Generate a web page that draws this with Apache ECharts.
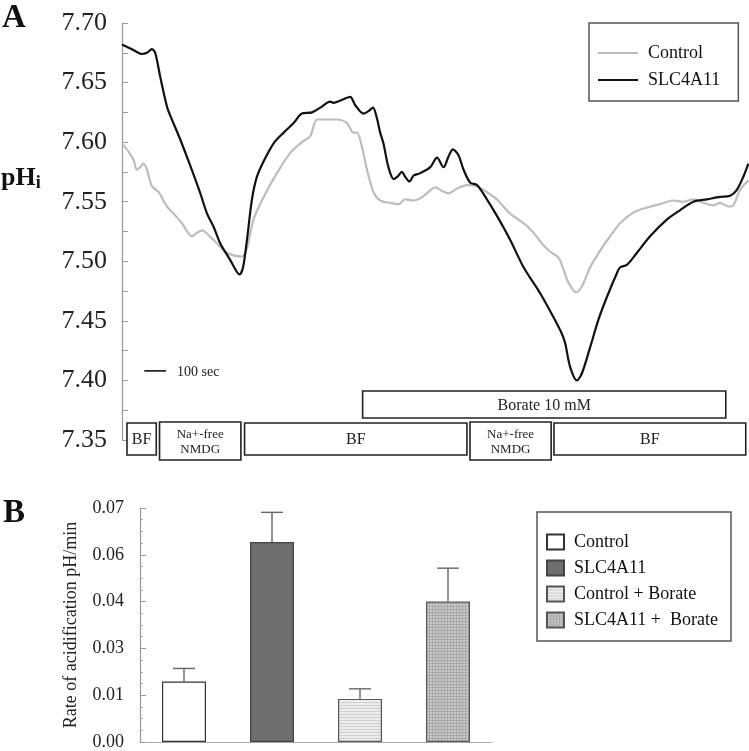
<!DOCTYPE html>
<html><head><meta charset="utf-8">
<script src="https://cdn.jsdelivr.net/npm/echarts@6/dist/echarts.min.js"></script>
<style>html,body{margin:0;padding:0;background:#fff}#c{width:749px;height:751px}</style>
</head><body><div id="c"></div>
<script>
// ---------- Panel A: intracellular pH traces ----------
const controlTime = [0,30,53,69,84,100,115,138,169,207,238,276,323,346,369,399,438,476,514,553,576,606,653,714,776,837,868,899,945,991,1037,1067,1083,1106,1129,1159,1190,1236,1275,1305,1344,1375,1405,1444,1475,1505,1544,1590,1636,1682,1728,1789,1851,1897,1935,1974,2012,2035,2058,2093,2120,2158,2204,2250,2296,2357,2419,2480,2542,2588,2634,2680,2726,2757,2795,2818,2849,2887];
const controlPH = [7.599,7.592,7.585,7.577,7.579,7.582,7.577,7.563,7.558,7.546,7.540,7.532,7.521,7.524,7.526,7.522,7.515,7.508,7.505,7.504,7.511,7.535,7.554,7.574,7.591,7.601,7.605,7.619,7.619,7.619,7.616,7.608,7.608,7.596,7.577,7.558,7.551,7.549,7.548,7.552,7.551,7.553,7.557,7.562,7.559,7.557,7.561,7.564,7.563,7.558,7.552,7.540,7.532,7.524,7.515,7.508,7.503,7.493,7.482,7.474,7.479,7.495,7.509,7.521,7.532,7.541,7.545,7.548,7.551,7.550,7.552,7.549,7.547,7.549,7.546,7.547,7.560,7.568];
const slcTime = [0,46,92,115,138,153,176,207,223,269,315,361,392,422,453,499,530,542,558,576,599,622,653,699,745,791,829,876,914,960,975,1021,1052,1075,1113,1136,1157,1175,1190,1205,1228,1252,1270,1290,1305,1325,1344,1375,1421,1452,1482,1505,1525,1551,1574,1605,1636,1682,1735,1789,1851,1928,1989,2028,2043,2066,2097,2120,2158,2196,2235,2281,2296,2327,2373,2434,2511,2573,2634,2696,2757,2803,2834,2864,2887];
const slcPH = [7.682,7.678,7.674,7.675,7.678,7.675,7.655,7.630,7.622,7.602,7.580,7.557,7.540,7.529,7.515,7.501,7.491,7.489,7.495,7.518,7.552,7.571,7.584,7.599,7.608,7.616,7.624,7.625,7.629,7.634,7.633,7.636,7.638,7.631,7.624,7.626,7.629,7.620,7.608,7.599,7.579,7.569,7.571,7.575,7.571,7.567,7.572,7.574,7.579,7.587,7.579,7.588,7.594,7.589,7.577,7.566,7.564,7.552,7.536,7.518,7.495,7.473,7.453,7.439,7.431,7.411,7.400,7.406,7.428,7.451,7.470,7.490,7.495,7.497,7.507,7.521,7.535,7.543,7.550,7.552,7.554,7.555,7.560,7.571,7.582];
const traceNames = ['Control', 'SLC4A11'];
// perfusion periods (seconds)
const stepLabels = ['BF', 'Na+-free\nNMDG', 'BF', 'Na+-free\nNMDG', 'BF'];
const stepStart = [23, 173, 565, 1604, 1991];
const stepEnd = [158, 548, 1590, 1978, 2875];
const borateLabel = 'Borate 10 mM';
const borateStart = 1109;
const borateEnd = 2783;
const scaleBarStart = 103;   // seconds
const scaleBarLength = 100;  // seconds
const scaleBarPH = 7.408;
const phMin = 7.35, phMax = 7.70, phStep = 0.05;
const timeMax = 2890;

// ---------- Panel B: acidification rates ----------
const rateCategories = ['Control', 'SLC4A11', 'Control + Borate', 'SLC4A11 +  Borate'];
const rateMean = [0.0181, 0.0598, 0.0129, 0.0420];
const rateSEM = [0.0039, 0.0089, 0.0030, 0.0100];
const rateMax = 0.07, rateStep = 0.014;

const FONT = 'Liberation Serif';

function pattern(bg, line, horiz, vert, n) {
  const c = document.createElement('canvas');
  c.width = n; c.height = n;
  const ctx = c.getContext('2d');
  ctx.fillStyle = bg; ctx.fillRect(0, 0, n, n);
  ctx.fillStyle = line;
  if (horiz) ctx.fillRect(0, 0, n, 1);
  if (vert) ctx.fillRect(0, 0, 1, n);
  return { image: c, repeat: 'repeat' };
}
const barFills = ['#ffffff', '#6e6e6e', pattern('#ececec', '#cfcfcf', true, false, 3), pattern('#c9c9c9', '#a8a8a8', true, true, 3)];
const barBorders = ['#333', '#444', '#555', '#555'];

const chart = echarts.init(document.getElementById('c'), null, { renderer: 'canvas' });

const barSeries = rateCategories.map((name, i) => ({
  name: 'B:' + name,
  type: 'bar',
  xAxisIndex: 1, yAxisIndex: 1,
  barWidth: '50%',
  barGap: '-100%',
  data: rateCategories.map((_, j) => (j === i ? rateMean[i] : '-')),
  itemStyle: { color: barFills[i], borderColor: barBorders[i], borderWidth: 1.2 },
  emphasis: { disabled: true },
  z: 2
}));

const option = {
  animation: false,
  backgroundColor: '#ffffff',
  textStyle: { fontFamily: FONT },
  title: [
    { text: 'A', left: 2, top: 2, padding: 0, textStyle: { fontFamily: FONT, fontWeight: 'bold', fontSize: 33, color: '#111' } },
    { text: 'B', left: 3, top: 497, padding: 0, textStyle: { fontFamily: FONT, fontWeight: 'bold', fontSize: 33, color: '#111' } },
    { text: '{a|pH}{b|i}', left: 1, top: 164, padding: 0,
      textStyle: { rich: {
        a: { fontFamily: FONT, fontWeight: 'bold', fontSize: 26, color: '#111' },
        b: { fontFamily: FONT, fontWeight: 'bold', fontSize: 18, color: '#111', padding: [10, 0, 0, 0] }
      } } }
  ],
  legend: [
    {
      data: traceNames.map(n => ({ name: n, icon: 'rect' })),
      left: 589, top: 23,
      orient: 'vertical',
      itemWidth: 40, itemHeight: 2, itemGap: 9,
      padding: [21, 18, 12, 9],
      borderColor: '#555', borderWidth: 1.5,
      selectedMode: false,
      textStyle: { fontFamily: FONT, fontSize: 18, lineHeight: 18, color: '#111', padding: [0, 0, 0, 5] }
    },
    {
      data: rateCategories.map(n => 'B:' + n),
      formatter: n => n.slice(2),
      left: 537, top: 512,
      orient: 'vertical',
      icon: 'rect',
      itemWidth: 17, itemHeight: 15, itemGap: 8,
      padding: [21, 13, 12, 9],
      borderColor: '#555', borderWidth: 1.5,
      selectedMode: false,
      textStyle: { fontFamily: FONT, fontSize: 18, lineHeight: 18, color: '#111', padding: [0, 0, 0, 5] }
    }
  ],
  grid: [
    { left: 122, top: 23, width: 627, height: 417 },
    { left: 140, top: 508, width: 352, height: 235 }
  ],
  xAxis: [
    { gridIndex: 0, type: 'value', min: 0, max: timeMax, show: false },
    { gridIndex: 1, type: 'category', data: rateCategories,
      axisLine: { lineStyle: { color: '#aaa', width: 1.2 } },
      axisTick: { show: false }, axisLabel: { show: false } }
  ],
  yAxis: [
    { gridIndex: 0, type: 'value', min: phMin, max: phMax, interval: phStep,
      axisLine: { show: true, lineStyle: { color: '#999', width: 1.2 } },
      axisTick: { show: true, inside: true, length: 6, lineStyle: { color: '#999' } },
      minorTick: { show: true, splitNumber: 2, length: 6, lineStyle: { color: '#999' } },
      splitLine: { show: false },
      axisLabel: { fontFamily: FONT, fontSize: 26, color: '#222', margin: 15, formatter: v => v.toFixed(2) } },
    { gridIndex: 1, type: 'value', min: 0, max: rateMax, interval: rateStep,
      name: 'Rate of acidification pH/min', nameLocation: 'middle', nameGap: 60,
      nameTextStyle: { fontFamily: FONT, fontSize: 18, color: '#222' },
      axisLine: { show: true, lineStyle: { color: '#999', width: 1.2 } },
      axisTick: { show: true, inside: true, length: 6, lineStyle: { color: '#999' } },
      minorTick: { show: true, splitNumber: 4, length: 3, lineStyle: { color: '#aaa' } },
      splitLine: { show: false },
      axisLabel: { fontFamily: FONT, fontSize: 18, color: '#222', margin: 16, formatter: v => v.toFixed(2) } }
  ],
  series: [
    {
      name: traceNames[0], type: 'line', xAxisIndex: 0, yAxisIndex: 0,
      data: controlTime.map((t, i) => [t, controlPH[i]]),
      symbol: 'none', smooth: 0.3,
      lineStyle: { color: '#bdbdbd', width: 2.2 }, itemStyle: { color: '#bdbdbd' },
      emphasis: { disabled: true }, z: 3
    },
    {
      name: traceNames[1], type: 'line', xAxisIndex: 0, yAxisIndex: 0,
      data: slcTime.map((t, i) => [t, slcPH[i]]),
      symbol: 'none', smooth: 0.3,
      lineStyle: { color: '#111', width: 2.2 }, itemStyle: { color: '#111' },
      emphasis: { disabled: true }, z: 4
    },
    {
      // perfusion step boxes
      type: 'custom', xAxisIndex: 0, yAxisIndex: 0, clip: false, silent: true,
      data: stepStart.map((s, i) => [s, stepEnd[i], i]),
      encode: { x: [0, 1] },
      renderItem: function (params, api) {
        const i = api.value(2);
        const label = stepLabels[i];
        const two = label.indexOf('\n') >= 0;
        const p0 = api.coord([api.value(0), phMin]);
        const p1 = api.coord([api.value(1), phMin]);
        const top = p0[1] + (two ? -18 : -17);
        const bot = p0[1] + (two ? 20 : 15);
        return {
          type: 'group',
          children: [
            { type: 'rect', shape: { x: p0[0], y: top, width: p1[0] - p0[0], height: bot - top },
              style: { fill: '#fff', stroke: '#222', lineWidth: 1.6 } },
            { type: 'text', style: { text: label, x: (p0[0] + p1[0]) / 2, y: (top + bot) / 2 + 1,
              align: 'center', verticalAlign: 'middle', fontFamily: FONT,
              fontSize: two ? 13 : 16, lineHeight: 15, fill: '#222' } }
          ]
        };
      },
      z: 5
    },
    {
      // borate application box
      type: 'custom', xAxisIndex: 0, yAxisIndex: 0, clip: false, silent: true,
      data: [[borateStart, borateEnd]],
      encode: { x: [0, 1] },
      renderItem: function (params, api) {
        const p0 = api.coord([api.value(0), phMin]);
        const p1 = api.coord([api.value(1), phMin]);
        const top = p0[1] - 49, bot = p0[1] - 22;
        return {
          type: 'group',
          children: [
            { type: 'rect', shape: { x: p0[0], y: top, width: p1[0] - p0[0], height: bot - top },
              style: { fill: '#fff', stroke: '#222', lineWidth: 1.6 } },
            { type: 'text', style: { text: borateLabel, x: (p0[0] + p1[0]) / 2, y: (top + bot) / 2 + 1,
              align: 'center', verticalAlign: 'middle', fontFamily: FONT, fontSize: 16, fill: '#222' } }
          ]
        };
      },
      z: 5
    },
    {
      // 100 sec scale bar
      type: 'custom', xAxisIndex: 0, yAxisIndex: 0, clip: false, silent: true,
      data: [[scaleBarStart, scaleBarStart + scaleBarLength, scaleBarPH]],
      encode: { x: [0, 1], y: 2 },
      renderItem: function (params, api) {
        const a = api.coord([api.value(0), api.value(2)]);
        const b = api.coord([api.value(1), api.value(2)]);
        return {
          type: 'group',
          children: [
            { type: 'line', shape: { x1: a[0], y1: a[1], x2: b[0], y2: b[1] }, style: { stroke: '#111', lineWidth: 1.6 } },
            { type: 'text', style: { text: scaleBarLength + ' sec', x: b[0] + 11, y: a[1] + 1,
              align: 'left', verticalAlign: 'middle', fontFamily: FONT, fontSize: 14, fill: '#222' } }
          ]
        };
      },
      z: 5
    },
    ...barSeries,
    {
      // error bars (mean + SEM)
      type: 'custom', xAxisIndex: 1, yAxisIndex: 1, silent: true, clip: false,
      data: rateMean.map((m, i) => [i, m, m + rateSEM[i]]),
      encode: { x: 0, y: [1, 2] },
      renderItem: function (params, api) {
        const base = api.coord([api.value(0), api.value(1)]);
        const tip = api.coord([api.value(0), api.value(2)]);
        const half = api.size([1, 0])[0] * 0.125;
        return {
          type: 'group',
          children: [
            { type: 'line', shape: { x1: base[0], y1: base[1], x2: tip[0], y2: tip[1] }, style: { stroke: '#666', lineWidth: 1.4 } },
            { type: 'line', shape: { x1: tip[0] - half, y1: tip[1], x2: tip[0] + half, y2: tip[1] }, style: { stroke: '#666', lineWidth: 1.4 } }
          ]
        };
      },
      z: 6
    }
  ]
};
chart.setOption(option);
</script>
</body></html>
